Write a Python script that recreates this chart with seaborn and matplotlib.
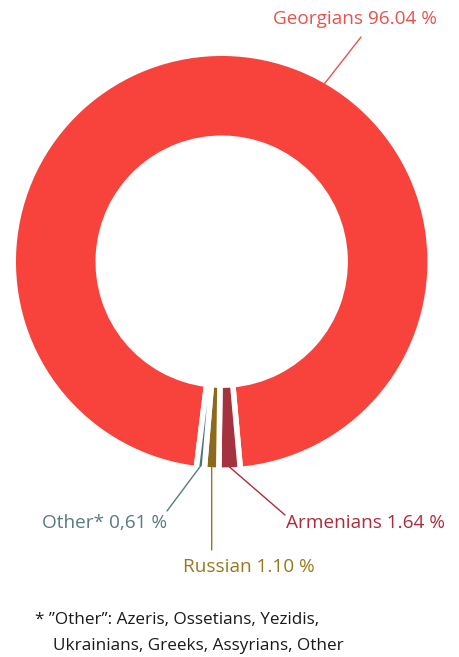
import matplotlib
matplotlib.use("Agg")
import matplotlib.pyplot as plt
import seaborn as sns
import numpy as np

# Ethnic composition (%)
groups = ["Georgians", "Armenians", "Russian", "Other*"]
shares = [96.04, 1.64, 1.10, 0.61]
share_text = ["96.04 %", "1.64 %", "1.10 %", "0,61 %"]
slice_colors = ["#f8423c", "#a5323f", "#8b6b1b", "#4b7377"]
label_colors = ["#e9524a", "#ad2b3b", "#98781f", "#587b7f"]
footnote = ["* \u201dOther\u201d: Azeris, Ossetians, Yezidis,",
            "Ukrainians, Greeks, Assyrians, Other"]

sns.set_theme(style="white")
plt.rcParams["font.family"] = ["Open Sans", "DejaVu Sans"]

W, H, DPI = 460, 657, 100
fig = plt.figure(figsize=(W / DPI, H / DPI), dpi=DPI)
ax = fig.add_axes([0, 0, 1, 1])

# pixel frame: donut centre and outer radius in pixels
CX, CY, R = 221.7, 261.7, 208.5


def px(x, y):
    """Convert pixel position (origin top-left) into data units."""
    return (x - CX) / R, (CY - y) / R


wedges, _ = ax.pie(
    shares,
    colors=sns.color_palette(slice_colors),
    startangle=263,
    counterclock=False,
    radius=1.0,
    wedgeprops=dict(width=0.408, edgecolor="white", linewidth=4.0),
)

ax.set_xlim(px(0, 0)[0], px(W, 0)[0])
ax.set_ylim(px(0, H)[1], px(0, 0)[1])
ax.set_aspect("auto")
ax.axis("off")


def rim_point(wedge, angle=None):
    a = 0.5 * (wedge.theta1 + wedge.theta2) if angle is None else angle
    r = 0.985
    return r * np.cos(np.radians(a)), r * np.sin(np.radians(a))


# leader lines: (angle on rim or None for mid-slice, line end, text anchor, alignment)
layout = [
    (60.0, (361, 37), (437, 19), "right"),
    (None, (285, 515), (286, 523), "left"),
    (None, (211.7, 550), (248.5, 567), "center"),
    (None, (167, 511), (167.5, 523), "right"),
]

for w, g, s, lc, (ang, end, anchor, ha) in zip(wedges, groups, share_text, label_colors, layout):
    start = rim_point(w, ang)
    ax.annotate("", xy=start, xytext=px(*end),
                arrowprops=dict(arrowstyle="-", color=lc, lw=1.0,
                                shrinkA=0, shrinkB=0))
    ax.text(*px(*anchor), f"{g} {s}", color=lc, fontsize=13.7,
            ha=ha, va="center")

fig.text(35 / W, 1 - 620 / H, footnote[0], fontsize=12.3, color="#1a1a1a",
         ha="left", va="center")
fig.text(53 / W, 1 - 646 / H, footnote[1], fontsize=12.3, color="#1a1a1a",
         ha="left", va="center")

fig.savefig("out.png", dpi=DPI, facecolor="white")
